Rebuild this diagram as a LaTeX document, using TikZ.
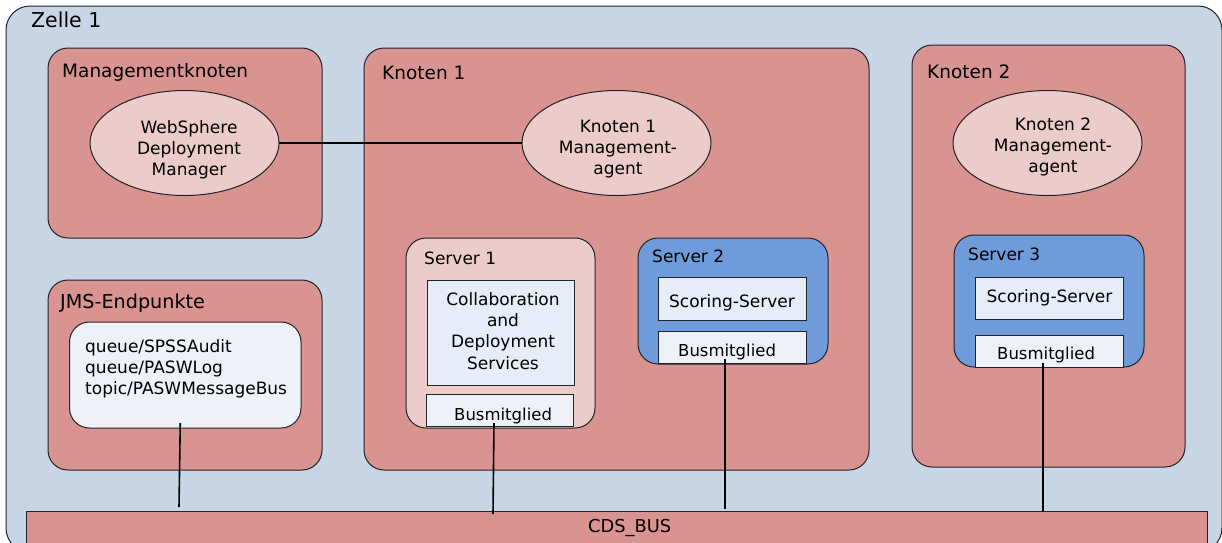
\documentclass[tikz,border=0pt]{standalone}
\usepackage{fontspec}
\setmainfont{DejaVu Sans}
\usetikzlibrary{shapes.geometric}
\definecolor{cellblue}{HTML}{C8D5E5}
\definecolor{nodered}{HTML}{D99491}
\definecolor{palepink}{HTML}{ECCCCB}
\definecolor{srvblue}{HTML}{6F9BDB}
\definecolor{paleblue}{HTML}{E7EDF8}
\definecolor{palegrey}{HTML}{EEF1F7}
\definecolor{edge}{HTML}{1E2428}
\newcommand{\bx}[6]{%
  \pgfmathsetmacro{\bxw}{#5-#3}\pgfmathsetmacro{\bxh}{#6-#4}%
  \node[#2,anchor=north west,minimum width=\bxw pt,minimum height=\bxh pt] (#1) at (#3,#4) {};}
\tikzset{
  base/.style={draw=edge,line width=1pt,inner sep=0pt,outer sep=0pt},
  cell/.style={base,fill=cellblue,rounded corners=24pt},
  knot/.style={base,fill=nodered,rounded corners=20pt},
  busbar/.style={base,fill=nodered},
  srv/.style={base,fill=palepink,rounded corners=20pt},
  srvb/.style={base,fill=srvblue,rounded corners=20pt},
  comp/.style={base,fill=paleblue},
  memb/.style={base,fill=palegrey},
  endp/.style={base,fill=palegrey,rounded corners=20pt},
  bubble/.style={base,fill=palepink,shape=ellipse,minimum width=189pt,minimum height=105pt},
  bigt/.style={anchor=base west,inner sep=0pt,text=black,font=\fontsize{18.5}{21}\selectfont},
  midt/.style={anchor=base west,inner sep=0pt,text=black,font=\fontsize{17}{21}\selectfont},
  membt/.style={midt,font=\fontsize{16.5}{21}\selectfont},
  blockt/.style={anchor=center,inner sep=0pt,text=black,align=center,font=\fontsize{17}{21.2}\selectfont},
  wire/.style={draw=black,line width=1.6pt},
}
\begin{document}
\begin{tikzpicture}[x=1pt,y=-1pt]
\useasboundingbox (0,0) rectangle (1222,542);
\clip (0,0) rectangle (1222,542);
\fill[white] (0,0) rectangle (1222,542);
\bx{zelle}{cell}{6}{6}{1222}{552}
\node[bigt,font=\fontsize{20.5}{21}\selectfont] (tzelle) at (31,27) {Zelle 1};
% Managementknoten
\bx{mgmt}{knot}{48}{48}{322}{238}
\node[bigt] (tmgmt) at (62,77) {Managementknoten};
\node[bubble] (wdm) at (184.5,143) {};
\node[blockt] (twdm) at (189,150) {WebSphere\\Deployment\\Manager};
% JMS
\bx{jms}{knot}{48}{280}{322}{470}
\node[bigt,font=\fontsize{19.2}{21}\selectfont] (tjms) at (60,308) {JMS-Endpunkte};
\bx{queues}{endp}{69.5}{322}{301}{428}
\node[blockt,align=left,anchor=north west] (tq) at (85,339) {queue/SPSSAudit\\queue/PASWLog\\topic/PASWMessageBus};
% Knoten 1
\bx{k1}{knot}{364}{48}{869}{470}
\node[bigt] (tk1) at (382,79) {Knoten 1};
\node[bubble] (a1) at (616.5,143) {};
\node[blockt] (ta1) at (618,149) {Knoten 1\\Management-\\agent};
\bx{s1}{srv}{406}{238}{595}{428}
\node[midt] (ts1) at (424,264) {Server 1};
\bx{collab}{comp}{427}{280}{574}{385}
\node[blockt] (tcollab) at (503,331) {Collaboration\\and\\Deployment\\Services};
\bx{bus1}{memb}{426}{394}{573}{426}
\node[membt] (tb1) at (454,420) {Busmitglied};
\bx{s2}{srvb}{638}{238}{828}{364}
\node[midt] (ts2) at (652,262) {Server 2};
\bx{sc2}{comp}{658}{277}{806}{320}
\node[blockt] (tsc2) at (732,303) {Scoring-Server};
\bx{bus2}{memb}{658}{331}{806}{363}
\node[membt] (tb2) at (678,356) {Busmitglied};
% Knoten 2
\bx{k2}{knot}{912}{45}{1185}{467}
\node[bigt] (tk2) at (927,78) {Knoten 2};
\node[bubble] (a2) at (1047.5,143) {};
\node[blockt] (ta2) at (1053,147) {Knoten 2\\Management-\\agent};
\bx{s3}{srvb}{954}{235}{1144}{367}
\node[midt] (ts3) at (968,260) {Server 3};
\bx{sc3}{comp}{975}{277}{1123}{319}
\node[blockt] (tsc3) at (1049.5,298) {Scoring-Server};
\bx{bus3}{memb}{975}{335}{1123}{367}
\node[membt] (tb3) at (997,359) {Busmitglied};
% Bus
\bx{cds}{busbar}{26}{511}{1207}{548}
\node[midt,font=\fontsize{17.8}{21}\selectfont] (tcds) at (588,532) {CDS\_BUS};
% Connectors
\draw[wire] (wdm.east) -- (a1.west);
\draw[wire] ([xshift=-5pt,yshift=5pt]queues.south) -- ([xshift=-437.5pt,yshift=4pt]cds.north);
\draw[wire] ([xshift=-5.5pt,yshift=3pt]bus1.south) -- ([xshift=-123.5pt,yshift=-3pt]cds.north);
\draw[wire] ([xshift=-7pt,yshift=4pt]bus2.south) -- ([xshift=108.5pt,yshift=2pt]cds.north);
\draw[wire] ([xshift=-6pt,yshift=4pt]bus3.south) -- ([xshift=426.5pt]cds.north);
\end{tikzpicture}
\end{document}
